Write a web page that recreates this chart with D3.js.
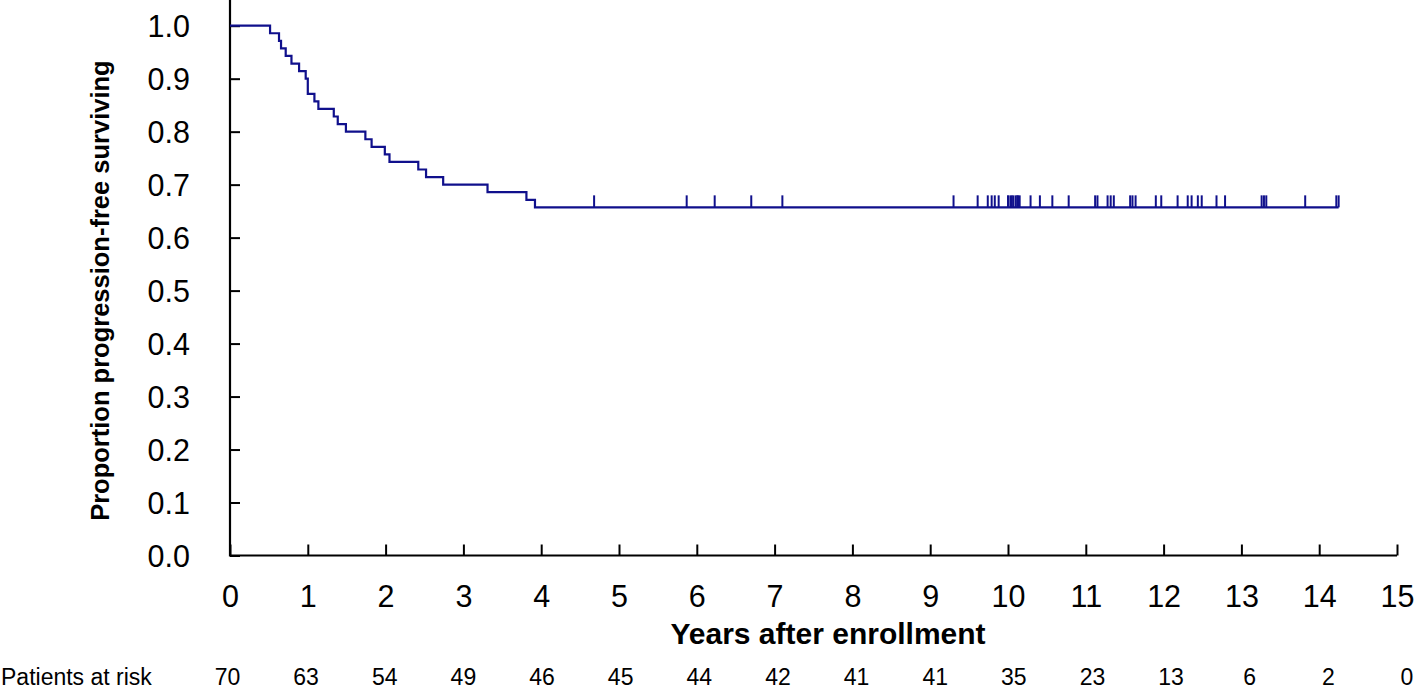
<!DOCTYPE html>
<html>
<head>
<meta charset="utf-8">
<script src="https://cdn.jsdelivr.net/npm/d3@7"></script>
<style>
  html, body { margin: 0; padding: 0; background: #fff; }
  svg { display: block; font-family: "Liberation Sans", Arial, Helvetica, sans-serif; }
</style>
</head>
<body>
<svg id="chart" width="1418" height="690"></svg>
<script>
// ---- data ----
const nPatients = 70;
const eventTimes = [0.515, 0.63, 0.656, 0.716, 0.79, 0.888, 0.973, 1.0, 1.0, 1.085, 1.136,
  1.334, 1.385, 1.49, 1.74, 1.82, 1.99, 2.05, 2.42, 2.52, 2.74, 3.31, 3.81, 3.92];
const censorTimes = [4.68, 5.87, 6.23, 6.70, 7.10,
  9.30, 9.61, 9.74, 9.79, 9.83, 9.88,
  10.00, 10.03, 10.05, 10.07, 10.10, 10.12, 10.13, 10.15, 10.29, 10.41, 10.57, 10.78,
  11.12, 11.15, 11.28, 11.32, 11.36, 11.57, 11.60, 11.64, 11.90, 11.97,
  12.18, 12.31, 12.36, 12.44, 12.49, 12.68, 12.79,
  13.26, 13.29, 13.32, 13.82,
  14.22, 14.25];
const xTicks = [0,1,2,3,4,5,6,7,8,9,10,11,12,13,14,15];
const yTicks = [0,0.1,0.2,0.3,0.4,0.5,0.6,0.7,0.8,0.9,1.0];
const atRisk = [70,63,54,49,46,45,44,42,41,41,35,23,13,6,2,0];
const xTitle = "Years after enrollment";
const yTitle = "Proportion progression-free surviving";
const riskLabel = "Patients at risk";

// ---- Kaplan-Meier computation ----
const all = eventTimes.map(t => ({t, e: 1})).concat(censorTimes.map(t => ({t, e: 0})))
  .sort((a, b) => a.t - b.t || b.e - a.e);
let n = nPatients, S = 1;
const steps = [{t: 0, s: 1}];
const censorPts = [];
let i = 0;
while (i < all.length) {
  const t = all[i].t;
  let d = 0, c = 0;
  while (i < all.length && all[i].t === t) { if (all[i].e) d++; else c++; i++; }
  if (d > 0) { S = S * (n - d) / n; steps.push({t, s: S}); }
  for (let k = 0; k < c; k++) censorPts.push({t, s: S});
  n -= d + c;
}
const tEnd = d3.max(all, d => d.t);
steps.push({t: tEnd, s: S});

// ---- layout ----
const svg = d3.select("#chart");
const x = d3.scaleLinear().domain([0, 15]).range([230, 1397]);
const y = d3.scaleLinear().domain([0, 1]).range([555.5, 25.7]);
const xRisk = d3.scaleLinear().domain([0, 15]).range([227.5, 1407]);
const navy = "#10108c";
const font = "\"Liberation Sans\", Arial, Helvetica, sans-serif";

// axes
const xAxis = d3.axisBottom(x).tickValues(xTicks).tickSize(-11).tickPadding(0).tickFormat(d3.format("d"));
const gx = svg.append("g").attr("transform", `translate(0,${y(0)})`).call(xAxis);
gx.selectAll(".tick line").attr("stroke", "#000").attr("stroke-width", 2);
gx.selectAll(".tick text").attr("fill", "#000").attr("font-size", 30.5).attr("font-family", font)
  .attr("y", 51.5).attr("dy", 0);

const yAxis = d3.axisLeft(y).tickValues(yTicks).tickSize(-10).tickPadding(40).tickFormat(d3.format(".1f"));
const gy = svg.append("g").attr("transform", `translate(${x(0)},0)`).call(yAxis);
gy.selectAll(".tick line").attr("stroke", "#000").attr("stroke-width", 2);
gy.selectAll(".tick text").attr("fill", "#000").attr("font-size", 30.5).attr("font-family", font)
  .attr("dy", "0.36em");
svg.selectAll(".domain").remove();
// axis lines
svg.append("line").attr("x1", x(0)).attr("x2", x(15)).attr("y1", y(0)).attr("y2", y(0))
  .attr("stroke", "#000").attr("stroke-width", 2.2);
svg.append("line").attr("x1", x(0)).attr("x2", x(0)).attr("y1", y(0) + 1.1).attr("y2", 0)
  .attr("stroke", "#000").attr("stroke-width", 2.2);

// titles
svg.append("text").attr("x", 828).attr("y", 644).attr("text-anchor", "middle")
  .attr("font-weight", "bold").attr("font-size", 30).attr("font-family", font).attr("fill", "#000")
  .text(xTitle);
svg.append("text").attr("transform", `translate(109,${(y(0) + y(1)) / 2}) rotate(-90)`)
  .attr("text-anchor", "middle").attr("font-weight", "bold").attr("font-size", 25.5)
  .attr("font-family", font).attr("fill", "#000").text(yTitle);

// at-risk row
svg.append("text").attr("x", 1).attr("y", 685).attr("font-size", 23).attr("font-family", font)
  .attr("fill", "#000").text(riskLabel);
svg.append("g").selectAll("text").data(atRisk).join("text")
  .attr("x", (d, k) => xRisk(xTicks[k])).attr("y", 685).attr("text-anchor", "middle")
  .attr("font-size", 23).attr("font-family", font).attr("fill", "#000").text(d => d);

// KM curve
const line = d3.line().x(d => x(d.t)).y(d => y(d.s)).curve(d3.curveStepAfter);
svg.append("path").datum(steps).attr("d", line).attr("fill", "none")
  .attr("stroke", navy).attr("stroke-width", 2.2);

// censor marks
svg.append("g").selectAll("line").data(censorPts).join("line")
  .attr("x1", d => x(d.t)).attr("x2", d => x(d.t))
  .attr("y1", d => y(d.s)).attr("y2", d => y(d.s) - 12)
  .attr("stroke", navy).attr("stroke-width", 2);
</script>
</body>
</html>
